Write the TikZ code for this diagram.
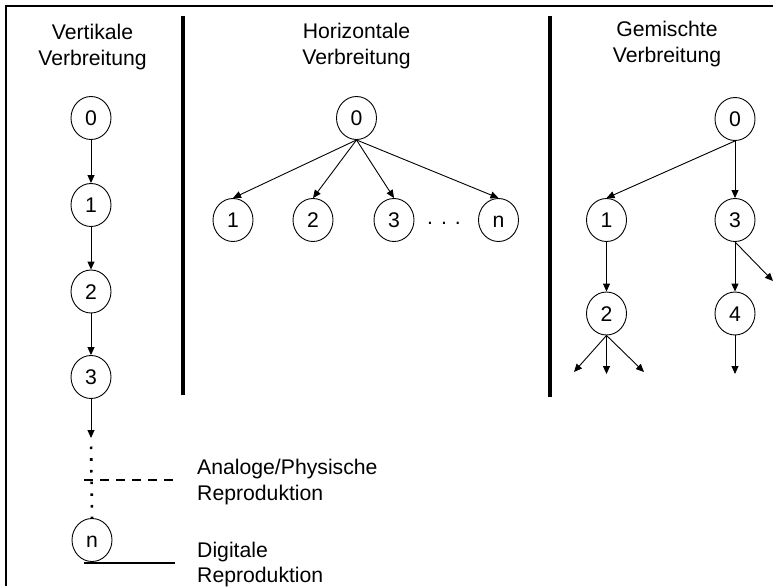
\documentclass[tikz,border=0pt]{standalone}
\usepackage{fontspec}
\setmainfont{Liberation Sans}
\usetikzlibrary{shapes.geometric,arrows.meta}
\begin{document}
\begin{tikzpicture}[x=1pt,y=-1pt,
  knot/.style={ellipse,draw,line width=0.9pt,minimum width=40pt,minimum height=43pt,inner sep=0pt,
    text height=15.2pt,text depth=0pt,font=\fontsize{21.2}{25}\selectfont},
  lbl/.style={inner sep=0pt,font=\fontsize{21.2}{25}\selectfont},
  arr/.style={line width=0.9pt,-{Triangle[length=8pt,width=7pt]}},
  sepline/.style={line width=3.5pt},
  frameline/.style={line width=1.2pt},
  dotline/.style={line width=2.6pt,dash pattern=on 2.6pt off 9.1pt,dash phase=3.2pt},
  analog/.style={line width=2pt,dash pattern=on 8.5pt off 7.5pt},
  digital/.style={line width=2pt}]
\useasboundingbox (0,0) rectangle (773,586);
% frame
\coordinate (fTR) at (773,6);
\coordinate (fTL) at (6,6);
\coordinate (fBL) at (6,586);
\draw[frameline] (fTR) -- (fTL) -- (fBL);
% separators
\coordinate (s1t) at (183,16); \coordinate (s1b) at (183,395);
\coordinate (s2t) at (550,16); \coordinate (s2b) at (550,397);
\draw[sepline] (s1t) -- (s1b);
\draw[sepline] (s2t) -- (s2b);
% titles
\node[lbl,anchor=base] (t1a) at (92.5,40) {Vertikale};
\node[lbl,anchor=base] (t1b) at (92.5,66) {Verbreitung};
\node[lbl,anchor=base] (t2a) at (356.5,38) {Horizontale};
\node[lbl,anchor=base] (t2b) at (356.5,64) {Verbreitung};
\node[lbl,anchor=base] (t3a) at (667,37) {Gemischte};
\node[lbl,anchor=base] (t3b) at (667,63) {Verbreitung};
% vertical spread
\node[knot] (v0) at (91,118) {0};
\node[knot] (v1) at (91,205) {1};
\node[knot] (v2) at (91,291.5) {2};
\node[knot] (v3) at (91,377) {3};
\node[knot] (vn) at (92,540) {n};
\coordinate (vd) at (91,438);
\draw[arr] (v0.south) -- (v1.north);
\draw[arr] (v1.south) -- (v2.north);
\draw[arr] (v2.south) -- (v3.north);
\draw[arr] (v3.south) -- (vd);
\draw[dotline] (vd) -- (vn.north);
\coordinate (al) at (84,480); \coordinate (ar) at (175,480);
\coordinate (dl) at (84,563); \coordinate (dr) at (175,563);
\draw[analog] (al) -- (ar);
\draw[digital] (dl) -- (dr);
\node[lbl,anchor=base west] (la1) at (197,474) {Analoge/Physische};
\node[lbl,anchor=base west] (la2) at (197,500) {Reproduktion};
\node[lbl,anchor=base west] (ld1) at (197,557) {Digitale};
\node[lbl,anchor=base west] (ld2) at (197,582) {Reproduktion};
% horizontal spread
\node[knot] (h0) at (356.5,118) {0};
\node[knot] (h1) at (233,220) {1};
\node[knot] (h2) at (313,220) {2};
\node[knot] (h3) at (394,220) {3};
\node[knot] (hn) at (498.5,220) {n};
\node[lbl,anchor=base] (hdots) at (444,224) {.\hspace{8pt}.\hspace{8pt}.};
\draw[arr] (h0.south) -- (h1.north);
\draw[arr] (h0.south) -- (h2.north);
\draw[arr] (h0.south) -- (h3.north);
\draw[arr] (h0.south) -- (hn.north);
% mixed spread
\node[knot] (r0) at (735,119) {0};
\node[knot] (r1) at (606.5,220) {1};
\node[knot] (r3) at (735,220) {3};
\node[knot] (r2) at (606.5,313.5) {2};
\node[knot] (r4) at (735,313.5) {4};
\coordinate (r3e) at (773,281);
\coordinate (r2a) at (574,372);
\coordinate (r2b) at (606.5,374);
\coordinate (r2c) at (644,372);
\coordinate (r4e) at (735,374);
\draw[arr] (r0.south) -- (r1.north);
\draw[arr] (r0.south) -- (r3.north);
\draw[arr] (r1.south) -- (r2.north);
\draw[arr] (r3.south) -- (r4.north);
\draw[arr] (r3.south) -- (r3e);
\draw[arr] (r2.south) -- (r2a);
\draw[arr] (r2.south) -- (r2b);
\draw[arr] (r2.south) -- (r2c);
\draw[arr] (r4.south) -- (r4e);
\end{tikzpicture}
\end{document}
